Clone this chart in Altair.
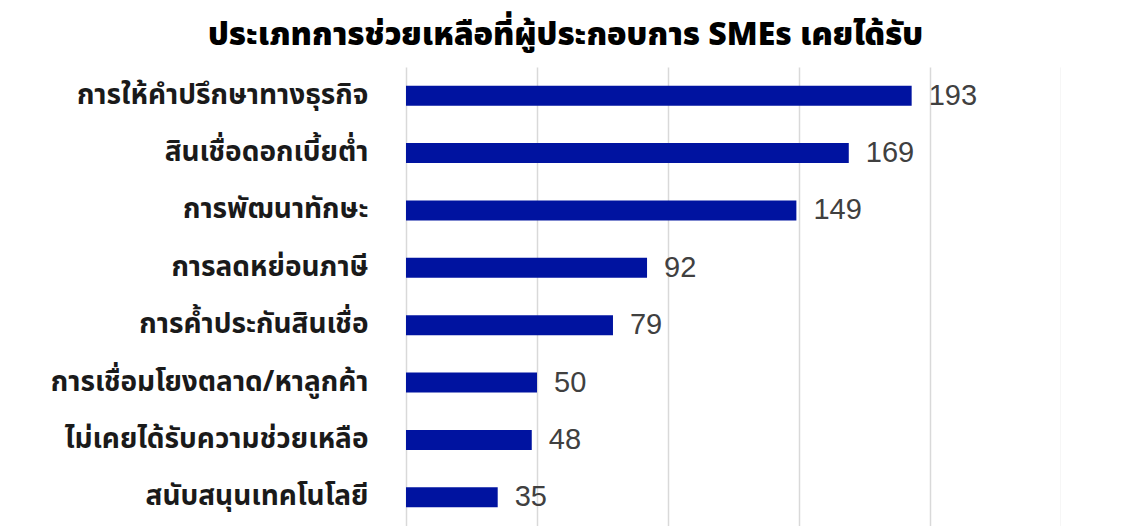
import altair as alt
import pandas as pd

categories = [
    "การให้คำปรึกษาทางธุรกิจ",
    "สินเชื่อดอกเบี้ยต่ำ",
    "การพัฒนาทักษะ",
    "การลดหย่อนภาษี",
    "การค้ำประกันสินเชื่อ",
    "การเชื่อมโยงตลาด/หาลูกค้า",
    "ไม่เคยได้รับความช่วยเหลือ",
    "สนับสนุนเทคโนโลยี",
]
values = [193, 169, 149, 92, 79, 50, 48, 35]
x_ticks = [0, 50, 100, 150, 200, 250]

df = pd.DataFrame({"category": categories, "value": values})

FONT = "Noto Sans Thai, Noto Sans, sans-serif"

base = alt.Chart(df).encode(
    y=alt.Y("category:N", sort=categories, title=None,
            axis=alt.Axis(labelFontSize=28, labelFont=FONT, labelFontWeight="bold",
                          labelColor="#1a1a1a", labelPadding=38, ticks=False,
                          domain=False, grid=False, labelLimit=400)),
)

bars = base.mark_bar(color="#0013A0", size=20).encode(
    x=alt.X("value:Q", scale=alt.Scale(domain=[0, 250], nice=False),
            title=None,
            axis=alt.Axis(values=x_ticks, labels=False, ticks=False, domain=False,
                          grid=True, gridColor="#d9d9d9", gridWidth=1.5)),
)

labels = base.mark_text(align="left", baseline="middle", dx=17, fontSize=29,
                        font="Liberation Sans, Arial, sans-serif", color="#404040").encode(
    x="value:Q",
    text="value:Q",
)

chart = (bars + labels).properties(
    width=655,
    height=459,
    autosize=alt.AutoSizeParams(type="none"),
    padding={"left": 398, "top": 59, "right": 0, "bottom": 0},
    title=alt.TitleParams(
        "ประเภทการช่วยเหลือที่ผู้ประกอบการ SMEs เคยได้รับ",
        fontSize=32, font=FONT, fontWeight=900, color="#000000",
        anchor="middle", dx=-168, offset=15,
    ),
).configure_view(stroke=None)

chart.save("out.html", embed_options={"renderer": "svg", "actions": False})
